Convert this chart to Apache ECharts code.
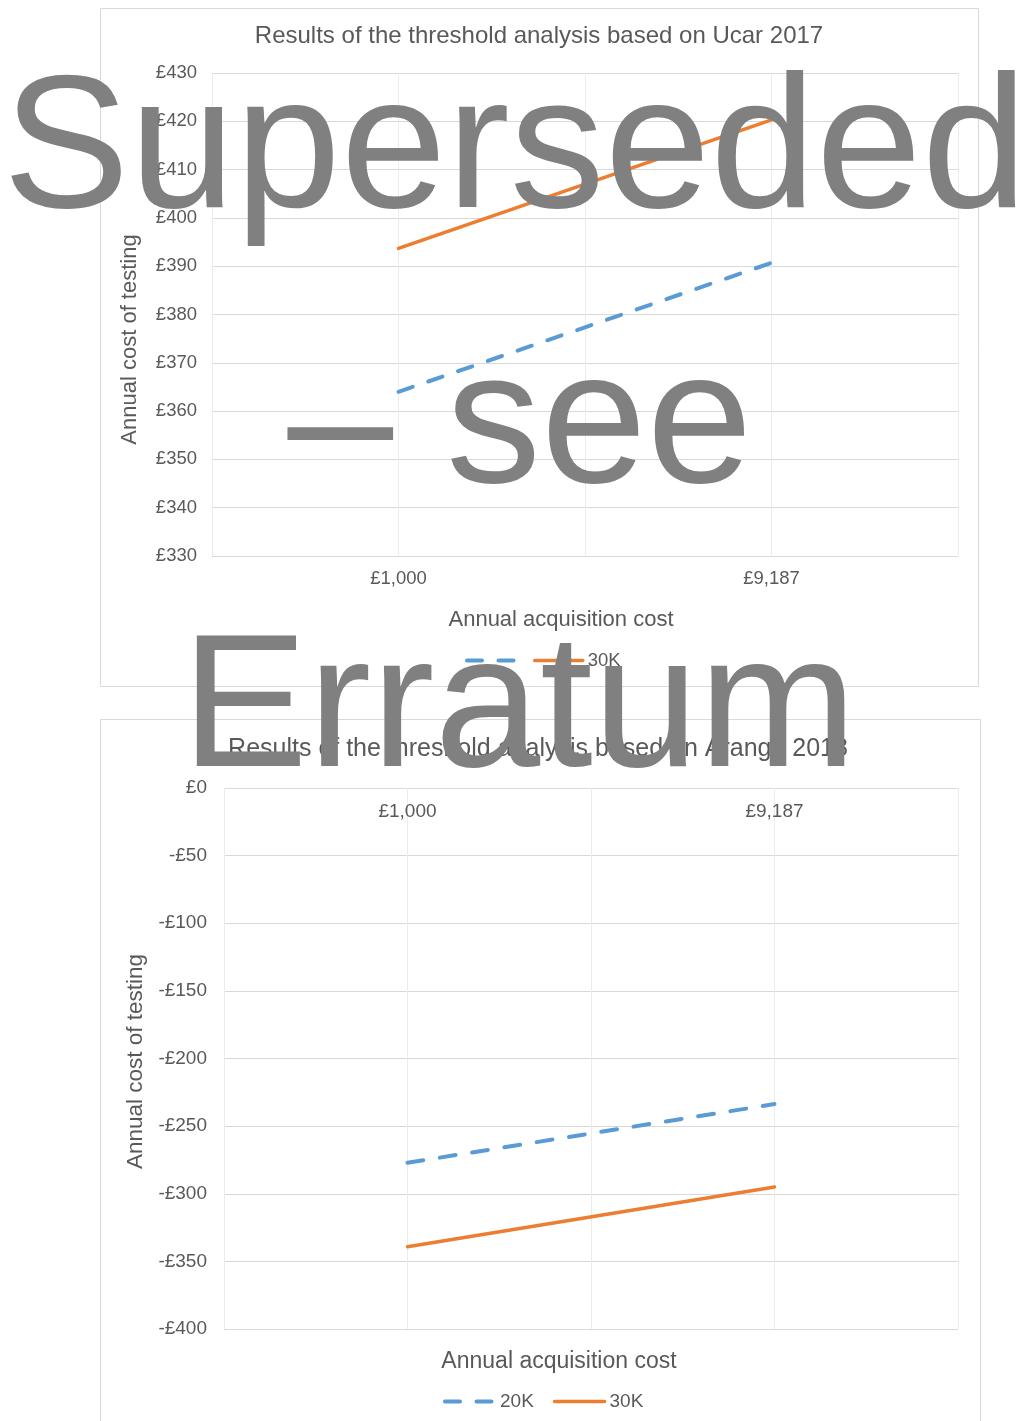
<!DOCTYPE html>
<html>
<head>
<meta charset="utf-8">
<title>Threshold analysis</title>
<script src="https://cdn.jsdelivr.net/npm/echarts@6/dist/echarts.min.js"></script>
<style>
  html, body { margin: 0; padding: 0; background: #ffffff; }
  #chart { width: 1024px; height: 1421px; }
</style>
</head>
<body>
<div id="chart"></div>
<script>
// Annual acquisition cost scenarios (x categories)
const categories = ['£1,000', '£9,187'];

// Ucar 2017: annual cost of testing at the 20K / 30K thresholds
const ucar20K = [364.0, 390.7];
const ucar30K = [393.7, 420.3];

// Arango: annual cost of testing at the 20K / 30K thresholds
const arango20K = [-277.1, -233.7];
const arango30K = [-339.2, -295.0];

const seriesNames = ['20K', '30K'];

const FONT = '"Liberation Sans", Arial, sans-serif';
const TEXT = '#595959';
const BLUE = '#5B9BD5';
const ORANGE = '#ED7D31';
const GRID_H = '#d9d9d9';
const GRID_V = '#ececec';

const poundLabel = v => (v < 0 ? '-£' + Math.abs(v) : '£' + v);

const dashedUpper = { color: BLUE, width: 4, type: [15, 16.5], cap: 'round' };
const dashedLower = { color: BLUE, width: 4, type: [16, 16.7], cap: 'round' };
const solid = { color: ORANGE, width: 3.5, cap: 'round' };

// legend entries: line only, no marker dot
const legendItems = [
  { name: seriesNames[0], lineStyle: { width: 4 }, itemStyle: { opacity: 0, color: 'transparent', borderWidth: 0 } },
  { name: seriesNames[1], lineStyle: { width: 3.5 }, itemStyle: { opacity: 0, color: 'transparent', borderWidth: 0 } }
];

const chart = echarts.init(document.getElementById('chart'), null, { renderer: 'canvas' });

const option = {
  backgroundColor: '#ffffff',
  animation: false,
  textStyle: { fontFamily: FONT },
  title: [
    {
      text: 'Results of the threshold analysis based on Ucar 2017',
      left: 539, top: 24, textAlign: 'center', padding: 0,
      textStyle: { color: TEXT, fontSize: 24, fontWeight: 'normal', fontFamily: FONT }
    },
    {
      text: 'Results of the threshold analysis based on Arango 2018',
      left: 538, top: 737, textAlign: 'center', padding: 0,
      textStyle: { color: TEXT, fontSize: 25, fontWeight: 'normal', fontFamily: FONT }
    }
  ],
  legend: [
    {
      left: 465, top: 651, padding: 0,
      itemWidth: 48, itemHeight: 14, itemGap: 16,
      data: legendItems,
      formatter: name => (name === '20K' ? '' : name),
      textStyle: { color: TEXT, fontSize: 18.5, fontFamily: FONT }
    },
    {
      left: 443, top: 1392, padding: 0,
      itemWidth: 50, itemHeight: 14, itemGap: 19,
      data: legendItems,
      textStyle: { color: TEXT, fontSize: 19, fontFamily: FONT }
    }
  ],
  grid: [
    { left: 212, right: 66, top: 73, height: 483, containLabel: false },
    { left: 224, right: 66, top: 788, height: 541, containLabel: false }
  ],
  xAxis: [
    {
      // upper chart: acquisition cost categories
      type: 'category', gridIndex: 0, position: 'bottom',
      data: categories, boundaryGap: true,
      axisLine: { show: false }, axisTick: { show: false }, splitLine: { show: false },
      axisLabel: { color: TEXT, fontSize: 18.5, margin: 13, fontFamily: FONT },
      name: 'Annual acquisition cost', nameLocation: 'middle', nameGap: 53,
      nameTextStyle: { color: TEXT, fontSize: 22, fontFamily: FONT, padding: [0, 48, 0, 0] }
    },
    {
      // upper chart: vertical gridlines at band edges and category centres
      type: 'value', gridIndex: 0, position: 'top', min: 0, max: 4, interval: 1,
      axisLine: { show: false }, axisTick: { show: false }, axisLabel: { show: false },
      splitLine: { show: true, lineStyle: { color: GRID_V, width: 1 } }
    },
    {
      // lower chart: categories drawn along the zero line at the top
      type: 'category', gridIndex: 1, position: 'top',
      data: categories, boundaryGap: true,
      axisLine: { show: false }, axisTick: { show: false }, splitLine: { show: false },
      axisLabel: { inside: true, color: TEXT, fontSize: 19, margin: 14, fontFamily: FONT }
    },
    {
      // lower chart: vertical gridlines and the axis title at the bottom
      type: 'value', gridIndex: 1, position: 'bottom', min: 0, max: 4, interval: 1,
      axisLine: { show: false }, axisTick: { show: false }, axisLabel: { show: false },
      splitLine: { show: true, lineStyle: { color: GRID_V, width: 1 } },
      name: 'Annual acquisition cost', nameLocation: 'middle', nameGap: 21,
      nameTextStyle: { color: TEXT, fontSize: 23, fontFamily: FONT, padding: [0, 64, 0, 0] }
    }
  ],
  yAxis: [
    {
      type: 'value', gridIndex: 0, min: 330, max: 430, interval: 10,
      axisLine: { show: false }, axisTick: { show: false },
      axisLabel: { color: TEXT, fontSize: 18.5, margin: 15, formatter: poundLabel, fontFamily: FONT },
      splitLine: { show: true, lineStyle: { color: GRID_H, width: 1 } },
      name: 'Annual cost of testing', nameLocation: 'middle', nameRotate: 90, nameGap: 71,
      nameTextStyle: { color: TEXT, fontSize: 22, fontFamily: FONT, padding: [0, 50, 0, 0] }
    },
    {
      type: 'value', gridIndex: 1, min: -400, max: 0, interval: 50,
      axisLine: { show: false }, axisTick: { show: false },
      axisLabel: { color: TEXT, fontSize: 19, margin: 17, formatter: poundLabel, fontFamily: FONT },
      splitLine: { show: true, lineStyle: { color: GRID_H, width: 1 } },
      name: 'Annual cost of testing', nameLocation: 'middle', nameRotate: 90, nameGap: 76,
      nameTextStyle: { color: TEXT, fontSize: 22.5, fontFamily: FONT, padding: [0, 6, 0, 0] }
    }
  ],
  series: [
    {
      name: seriesNames[0], type: 'line', xAxisIndex: 0, yAxisIndex: 0,
      data: ucar20K, symbol: 'none', lineStyle: dashedUpper,
      itemStyle: { color: BLUE }, z: 3
    },
    {
      name: seriesNames[1], type: 'line', xAxisIndex: 0, yAxisIndex: 0,
      data: ucar30K, symbol: 'none', lineStyle: solid,
      itemStyle: { color: ORANGE }, z: 3
    },
    {
      name: seriesNames[0], type: 'line', xAxisIndex: 2, yAxisIndex: 1,
      data: arango20K, symbol: 'none', lineStyle: dashedLower,
      itemStyle: { color: BLUE }, z: 3
    },
    {
      name: seriesNames[1], type: 'line', xAxisIndex: 2, yAxisIndex: 1,
      data: arango30K, symbol: 'none', lineStyle: solid,
      itemStyle: { color: ORANGE }, z: 3
    }
  ],
  graphic: [
    // chart frames
    {
      type: 'rect', z: 0, silent: true,
      shape: { x: 100.5, y: 8.5, width: 878, height: 678 },
      style: { fill: null, stroke: GRID_H, lineWidth: 1 }
    },
    {
      type: 'rect', z: 0, silent: true,
      shape: { x: 100.5, y: 719.5, width: 880, height: 760 },
      style: { fill: null, stroke: GRID_H, lineWidth: 1 }
    },
    // superseded stamp across both charts
    {
      type: 'text', z: 100, silent: true, x: 515, y: 155,
      style: { text: 'Superseded', fill: '#808080', font: '190px ' + FONT, align: 'center', verticalAlign: 'middle' }
    },
    {
      type: 'text', z: 100, silent: true, x: 520, y: 430,
      style: { text: '– see', fill: '#808080', font: '190px ' + FONT, align: 'center', verticalAlign: 'middle' }
    },
    {
      type: 'text', z: 100, silent: true, x: 519, y: 714,
      style: { text: 'Erratum', fill: '#808080', font: '190px ' + FONT, align: 'center', verticalAlign: 'middle' }
    }
  ]
};

chart.setOption(option);
</script>
</body>
</html>
